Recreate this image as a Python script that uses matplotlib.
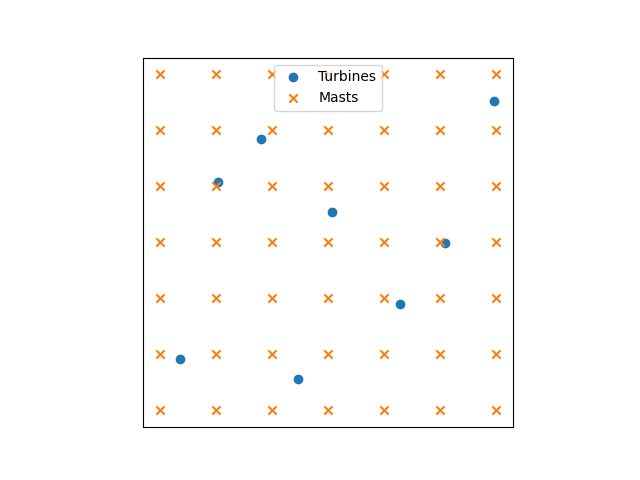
import matplotlib
matplotlib.use("Agg")
import matplotlib.pyplot as plt
import numpy as np

# Mast grid coordinates (7x7)
mast_x_levels = [0, 1, 2, 3, 4, 5, 6]
mast_y_levels = [0, 1, 2, 3, 4, 5, 6]

# Turbine coordinates
turbine_x = [5.96, 1.80, 1.04, 3.07, 5.09, 4.29, 0.36, 2.46]
turbine_y = [5.52, 4.84, 4.07, 3.54, 2.99, 1.90, 0.91, 0.56]

mx, my = np.meshgrid(mast_x_levels, mast_y_levels)

fig, ax = plt.subplots(figsize=(6.4, 4.8), dpi=100)
ax.scatter(turbine_x, turbine_y, label="Turbines")
ax.scatter(mx.ravel(), my.ravel(), marker="x", label="Masts")
ax.set_aspect("equal")
ax.set_xticks([])
ax.set_yticks([])
ax.legend(loc="upper center")
fig.savefig("out.png", dpi=100)
